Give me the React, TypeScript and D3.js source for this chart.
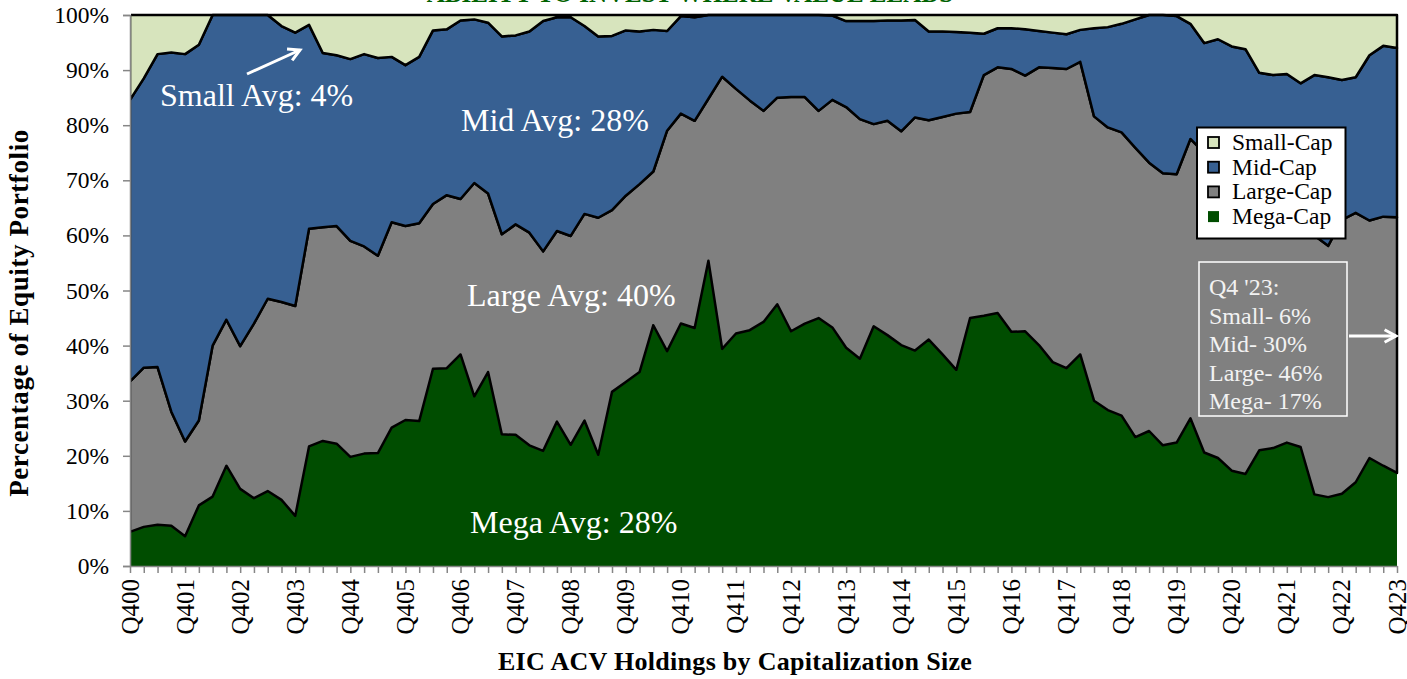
import React, { useEffect, useRef } from "react";
import * as d3 from "d3";

// one entry per quarter, Q4 2000 .. Q4 2023
const quarters: string[] = [];
for (let yr = 2000; yr <= 2023; yr++) {
  for (let q = 1; q <= 4; q++) {
    if (yr === 2000 && q < 4) continue;
    quarters.push(`Q${q}${String(yr % 100).padStart(2, "0")}`);
  }
}

// share of equity portfolio (%)
const mega = [
  6.2, 7.1, 7.5, 7.3, 5.4, 11.0, 12.6, 18.2, 14.0, 12.3, 13.6, 12.0, 9.1, 21.7, 22.7, 22.2,
  19.8, 20.4, 20.5, 25.1, 26.5, 26.3, 35.8, 35.9, 38.4, 30.8, 35.2, 23.9, 23.8, 21.9, 20.9, 26.2,
  22.0, 26.4, 20.2, 31.6, 33.4, 35.2, 43.7, 39.0, 44.0, 43.2, 55.4, 39.4, 42.2, 42.8, 44.3, 47.5,
  42.6, 44.0, 45.0, 43.3, 39.6, 37.6, 43.5, 41.9, 40.1, 39.1, 41.1, 38.4, 35.6, 45.0, 45.4, 45.9,
  42.5, 42.6, 40.1, 37.0, 35.9, 38.4, 30.0, 28.3, 27.3, 23.4, 24.5, 21.9, 22.4, 26.8, 20.6, 19.6,
  17.3, 16.7, 21.0, 21.4, 22.4, 21.6, 13.0, 12.5, 13.1, 15.2, 19.6, 18.2, 16.9,
];
const large = [
  27.3, 28.9, 28.6, 20.7, 17.2, 15.4, 27.4, 26.5, 25.9, 31.7, 34.9, 35.9, 38.1, 39.5, 38.8, 39.5,
  39.2, 37.6, 35.8, 37.3, 35.2, 35.9, 29.9, 31.4, 28.2, 38.7, 32.4, 36.3, 38.2, 38.6, 36.2, 34.6,
  37.9, 37.5, 43.0, 33.0, 33.8, 34.1, 27.9, 40.0, 38.1, 37.6, 29.4, 49.4, 44.4, 41.7, 38.3, 37.5,
  42.5, 41.1, 37.6, 41.3, 43.7, 43.5, 36.7, 38.9, 38.8, 42.3, 39.8, 43.1, 46.5, 37.4, 43.7, 44.6,
  47.7, 46.4, 50.4, 53.4, 54.3, 53.1, 51.6, 51.3, 51.4, 52.5, 48.7, 49.4, 48.7, 50.7, 54.4, 53.4,
  54.7, 53.3, 47.0, 44.6, 41.6, 40.4, 47.0, 45.6, 49.7, 48.9, 43.1, 45.2, 46.4,
];
const mid = [
  51.1, 52.5, 56.8, 65.2, 70.3, 68.2, 60.0, 55.3, 60.1, 56.0, 51.5, 50.1, 49.6, 37.0, 31.6, 31.0,
  33.0, 34.9, 35.9, 30.0, 29.2, 30.2, 31.5, 30.1, 32.4, 29.7, 31.0, 35.9, 34.3, 36.5, 41.8, 38.8,
  39.7, 34.1, 32.9, 31.6, 30.0, 27.7, 25.7, 18.1, 17.7, 18.8, 15.2, 11.2, 13.4, 15.5, 17.4, 15.0,
  14.9, 14.9, 17.4, 15.3, 15.6, 17.8, 18.7, 18.2, 20.1, 17.7, 16.1, 15.5, 14.8, 14.4, 7.5, 7.1,
  7.4, 8.4, 6.6, 6.4, 6.3, 5.8, 16.0, 18.2, 19.7, 23.3, 26.8, 28.7, 28.7, 20.9, 19.9, 22.6,
  22.3, 23.8, 21.5, 23.1, 25.3, 25.6, 29.1, 30.6, 25.4, 24.6, 30.0, 31.0, 30.7,
];
const small = [
  15.4, 11.5, 7.1, 6.8, 7.1, 5.4, 0, 0, 0, 0, 0, 2.0, 3.2, 1.8, 6.9, 7.3,
  8.0, 7.1, 7.8, 7.6, 9.1, 7.6, 2.8, 2.6, 1.0, 0.8, 1.4, 3.9, 3.7, 3.0, 1.1, 0.4,
  0.4, 2.0, 3.9, 3.8, 2.8, 3.0, 2.7, 2.9, 0.2, 0.4, 0, 0, 0, 0, 0, 0,
  0, 0, 0, 0.1, 1.1, 1.1, 1.1, 1.0, 1.0, 0.9, 3.0, 3.0, 3.1, 3.2, 3.4, 2.4,
  2.4, 2.6, 2.9, 3.2, 3.5, 2.7, 2.4, 2.2, 1.6, 0.8, 0, 0, 0.2, 1.6, 5.1, 4.4,
  5.7, 6.2, 10.5, 10.9, 10.7, 12.4, 10.9, 11.3, 11.8, 11.3, 7.3, 5.6, 6.0,
];

const seriesKeys = ["mega", "large", "mid", "small"];
const legendNames = ["Small-Cap", "Mid-Cap", "Large-Cap", "Mega-Cap"];
const colors: Record<string, string> = {
  small: "#d7e4bd",
  mid: "#376092",
  large: "#808080",
  mega: "#004d00",
};
const avgLabels = [
  { text: "Small Avg: 4%", x: 160, y: 106 },
  { text: "Mid Avg: 28%", x: 461, y: 131 },
  { text: "Large Avg: 40%", x: 467, y: 306 },
  { text: "Mega Avg: 28%", x: 470, y: 533 },
];
const latestLines = ["Q4 '23:", "Small- 6%", "Mid- 30%", "Large- 46%", "Mega- 17%"];

const FONT = "'Liberation Serif', 'Times New Roman', serif";

export default function App() {
  const ref = useRef<SVGSVGElement | null>(null);

  useEffect(() => {
    const width = 1407;
    const height = 679;
    const margin = { top: 15, right: 10, bottom: 113, left: 130 };

    const svg = d3.select(ref.current);
    svg.selectAll("*").remove();
    svg.attr("width", width).attr("height", height).style("font-family", FONT);

    const rows = quarters.map((q, i) => ({
      q,
      mega: mega[i],
      large: large[i],
      mid: mid[i],
      small: small[i],
    }));

    const x = d3
      .scalePoint<string>()
      .domain(quarters)
      .range([margin.left, width - margin.right]);
    const y = d3
      .scaleLinear()
      .domain([0, 100])
      .range([height - margin.bottom, margin.top]);

    const stacked = d3.stack<any>().keys(seriesKeys)(rows);

    const area = d3
      .area<any>()
      .x((d) => x(d.data.q)!)
      .y0((d) => y(d[0]))
      .y1((d) => y(d[1]));

    // title (cut off at top of the image, as in the source)
    svg
      .append("text")
      .attr("x", 690)
      .attr("y", 2)
      .attr("text-anchor", "middle")
      .attr("font-size", 25)
      .attr("font-weight", "bold")
      .attr("fill", "#006100")
      .text("ABILITY TO INVEST WHERE VALUE LEADS");

    svg
      .append("defs")
      .append("clipPath")
      .attr("id", "plot-clip")
      .append("rect")
      .attr("x", margin.left + 1)
      .attr("y", 0)
      .attr("width", width - margin.left)
      .attr("height", height - margin.bottom);

    svg
      .append("g")
      .attr("clip-path", "url(#plot-clip)")
      .selectAll("path")
      .data(stacked)
      .join("path")
      .attr("fill", (s) => colors[s.key])
      .attr("stroke", (s) => (s.key === "mega" ? "none" : "#000"))
      .attr("stroke-width", 2.5)
      .attr("stroke-linejoin", "round")
      .attr("d", (s) => area(s));

    // y axis
    const yAxis = svg
      .append("g")
      .attr("transform", `translate(${margin.left},0)`)
      .call(
        d3
          .axisLeft(y)
          .tickValues(d3.range(0, 101, 10))
          .tickSize(7)
          .tickPadding(14)
          .tickFormat((d) => `${d}%`)
      );
    yAxis.select(".domain").attr("stroke", "#868686").attr("stroke-width", 1.5);
    yAxis.selectAll(".tick line").attr("stroke", "#868686").attr("stroke-width", 1.5);
    yAxis
      .selectAll(".tick text")
      .attr("font-family", FONT)
      .attr("font-size", 23.5)
      .attr("fill", "#000");

    // x axis
    const xAxis = svg
      .append("g")
      .attr("transform", `translate(0,${height - margin.bottom})`)
      .call(
        d3
          .axisBottom(x)
          .tickSize(7)
          .tickSizeOuter(0)
          .tickFormat((d) => (d.startsWith("Q4") ? d : ""))
      );
    xAxis.select(".domain").attr("stroke", "#868686").attr("stroke-width", 1.5);
    xAxis.selectAll(".tick line").attr("stroke", "#868686").attr("stroke-width", 1.5);
    xAxis
      .selectAll(".tick text")
      .attr("font-family", FONT)
      .attr("font-size", 25)
      .attr("fill", "#000")
      .attr("text-anchor", "end")
      .attr("transform", "rotate(-90)")
      .attr("x", -13)
      .attr("y", 8)
      .attr("dy", "0");

    // axis titles
    svg
      .append("text")
      .attr("transform", `translate(28,${313}) rotate(-90)`)
      .attr("text-anchor", "middle")
      .attr("font-size", 27)
      .attr("font-weight", "bold")
      .attr("letter-spacing", 0.6)
      .text("Percentage of Equity Portfolio");

    svg
      .append("text")
      .attr("x", 735)
      .attr("y", 670)
      .attr("text-anchor", "middle")
      .attr("font-size", 26)
      .attr("font-weight", "bold")
      .attr("letter-spacing", 0.3)
      .text("EIC ACV Holdings by Capitalization Size");

    // average labels
    svg
      .append("g")
      .selectAll("text")
      .data(avgLabels)
      .join("text")
      .attr("x", (d) => d.x)
      .attr("y", (d) => d.y)
      .attr("font-size", 32)
      .attr("fill", "#fff")
      .text((d) => d.text);

    const arrow = (x1: number, y1: number, x2: number, y2: number) => {
      const g = svg.append("g").attr("stroke", "#fff").attr("stroke-width", 3).attr("fill", "none");
      g.append("line").attr("x1", x1).attr("y1", y1).attr("x2", x2).attr("y2", y2);
      const a = Math.atan2(y2 - y1, x2 - x1);
      const len = 13;
      const p = (da: number) => [x2 - len * Math.cos(a + da), y2 - len * Math.sin(a + da)];
      g.append("polyline").attr("points", [p(0.5), [x2, y2], p(-0.5)].map((v) => v.join(",")).join(" "));
    };
    arrow(247, 74, 300, 50);

    // legend
    const legend = svg.append("g");
    legend
      .append("rect")
      .attr("x", 1197)
      .attr("y", 127.5)
      .attr("width", 148.5)
      .attr("height", 111)
      .attr("fill", "#fff")
      .attr("stroke", "#000")
      .attr("stroke-width", 2);
    const legendKeys = ["small", "mid", "large", "mega"];
    legendKeys.forEach((k, i) => {
      const by = 150 + i * 24.7;
      legend
        .append("rect")
        .attr("x", 1208)
        .attr("y", by - 13)
        .attr("width", 11)
        .attr("height", 11)
        .attr("fill", colors[k])
        .attr("stroke", k === "mega" ? "none" : "#000")
        .attr("stroke-width", 1.8);
      legend
        .append("text")
        .attr("x", 1232)
        .attr("y", by)
        .attr("font-size", 23.5)
        .text(legendNames[i]);
    });

    // latest quarter box
    const box = svg.append("g");
    box
      .append("rect")
      .attr("x", 1199)
      .attr("y", 262)
      .attr("width", 148)
      .attr("height", 154)
      .attr("fill", "none")
      .attr("stroke", "#fff")
      .attr("stroke-width", 1.5);
    box
      .selectAll("text")
      .data(latestLines)
      .join("text")
      .attr("x", 1209)
      .attr("y", (_, i) => 295 + i * 28.6)
      .attr("font-size", 24)
      .attr("fill", "#f2f2f2")
      .text((d) => d);
    arrow(1349, 336, 1396, 336);
  }, []);

  return (
    <svg
      ref={ref}
      width={1407}
      height={679}
      style={{ position: "absolute", left: 0, top: 0 }}
    />
  );
}
